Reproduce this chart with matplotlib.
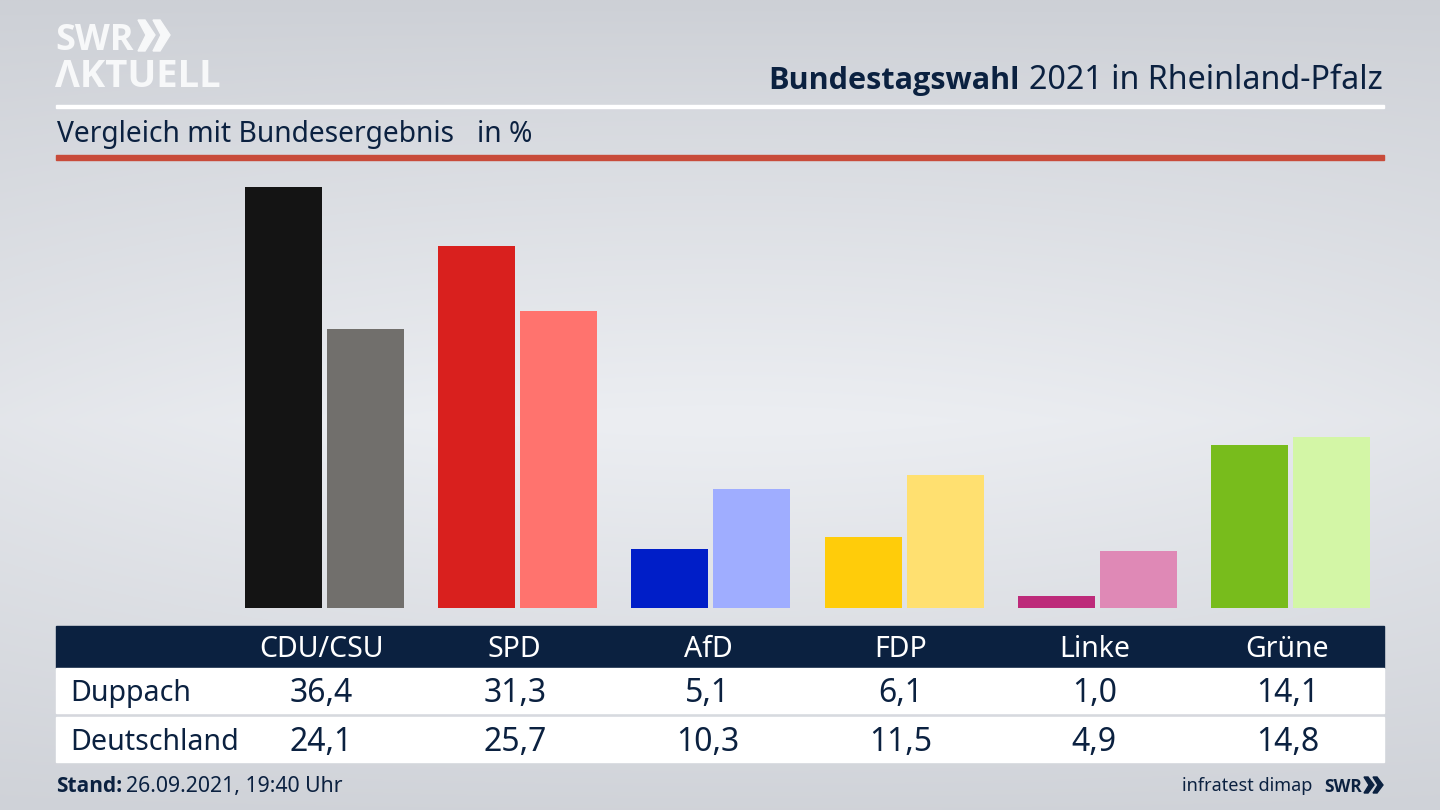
import matplotlib
import matplotlib.pyplot as plt
import numpy as np
from matplotlib.patches import Polygon, Rectangle

matplotlib.use("Agg")

parties = ["CDU/CSU", "SPD", "AfD", "FDP", "Linke", "Grüne"]
duppach = [36.4, 31.3, 5.1, 6.1, 1.0, 14.1]
deutschland = [24.1, 25.7, 10.3, 11.5, 4.9, 14.8]
colors_local = ["#141414", "#d9201e", "#001ec8", "#ffcc0a", "#bd2a7a", "#78bc1c"]
colors_national = ["#716f6c", "#ff736e", "#9fadff", "#ffe070", "#df89b6", "#d3f6a6"]

NAVY = "#0b2140"
LOGO = "#f7f8f9"
FONT = ["Noto Sans", "DejaVu Sans"]
BOLD = ["Open Sans", "DejaVu Sans"]
plt.rcParams["font.family"] = FONT

fig = plt.figure(figsize=(14.4, 8.1), dpi=100)

# full figure axes in pixel coordinates for the frame, table and texts
bg = fig.add_axes([0, 0, 1, 1])
bg.set_xlim(0, 1440)
bg.set_ylim(810, 0)
bg.axis("off")

yy = np.linspace(0, 1, 270)[:, None]
xx = np.linspace(-1, 1, 480)[None, :]
shade = np.clip(1 - np.abs(yy - 0.52) / 0.52, 0, 1) ** 0.9 * (1 - 0.28 * xx**2)
top = np.array([205, 208, 214]) / 255
light = np.array([236, 238, 242]) / 255
grad = top + shade[..., None] * (light - top)
bg.imshow(grad, extent=(0, 1440, 810, 0), aspect="auto", zorder=0)

# header
bg.add_patch(Rectangle((56, 104.5), 1328, 3, color="white", zorder=2))
bg.add_patch(Rectangle((56, 155), 1328, 5, color="#c84b3a", zorder=2))
bg.text(1383, 89, "2021 in Rheinland-Pfalz", fontsize=23.2, color=NAVY, ha="right", va="baseline")
bg.text(1019.5, 89, "Bundestagswahl", fontsize=22.1, fontweight="bold", color=NAVY,
        ha="right", va="baseline", family=BOLD)
bg.text(57, 142, "Vergleich mit Bundesergebnis", fontsize=20.3, color=NAVY, va="baseline")
bg.text(477, 142, "in %", fontsize=20.3, color=NAVY, va="baseline")

# logo
bg.text(55, 50, "SWR", fontsize=26, fontweight="bold", color=LOGO, va="baseline", family=BOLD)
bg.text(55, 87, "ΛKTUELL", fontsize=27.5, fontweight="bold", color=LOGO, va="baseline", family=BOLD)
for x0 in (138, 153):
    bg.add_patch(Polygon([(x0, 20), (x0 + 7, 20), (x0 + 17, 35), (x0 + 7, 51), (x0, 51), (x0 + 8, 35)],
                         color=LOGO, zorder=3))

# bars, drawn in party index / percent units
GROUP_STEP = 193.2
GROUP_X0 = 324.5
ax = fig.add_axes([0, (810 - 608) / 810, 1, (608 - 187) / 810])
ax.patch.set_alpha(0)
ax.set_xlim(-GROUP_X0 / GROUP_STEP, (1440 - GROUP_X0) / GROUP_STEP)
ax.set_ylim(0, 36.4)
ax.axis("off")
pos = np.arange(len(parties))
ax.bar(pos - 0.2122, duppach, width=0.398, color=colors_local)
ax.bar(pos + 0.2122, deutschland, width=0.398, color=colors_national)

# table
bg.add_patch(Rectangle((56, 626), 1328, 42, color=NAVY, zorder=2))
bg.add_patch(Rectangle((56, 668), 1328, 45, color="white", zorder=2))
bg.add_patch(Rectangle((56, 717), 1328, 45, color="white", zorder=2))
for i, party in enumerate(parties):
    cx = 321.5 + GROUP_STEP * i
    bg.text(cx, 657, party, fontsize=20.5, color="white", ha="center", va="baseline", zorder=3)
    bg.text(cx, 702, f"{duppach[i]:.1f}".replace(".", ","), fontsize=23, color=NAVY,
            ha="center", va="baseline", zorder=3)
    bg.text(cx, 751, f"{deutschland[i]:.1f}".replace(".", ","), fontsize=23, color=NAVY,
            ha="center", va="baseline", zorder=3)
bg.text(70, 701, "Duppach", fontsize=20.6, color=NAVY, va="baseline", zorder=3)
bg.text(70, 750, "Deutschland", fontsize=20.6, color=NAVY, va="baseline", zorder=3)

# footer
bg.text(56, 792, "Stand:", fontsize=15, fontweight="bold", color=NAVY, va="baseline", family=BOLD)
bg.text(126, 792, "26.09.2021, 19:40 Uhr", fontsize=15.3, color=NAVY, va="baseline")
bg.text(1312, 791, "infratest dimap", fontsize=13, color=NAVY, ha="right", va="baseline")
bg.text(1324, 792, "SWR", fontsize=12.5, fontweight="bold", color=NAVY, va="baseline", family=BOLD)
for x0 in (1364, 1373):
    bg.add_patch(Polygon([(x0, 777), (x0 + 4, 777), (x0 + 10, 785), (x0 + 4, 793), (x0, 793), (x0 + 5, 785)],
                         color=NAVY, zorder=3))

fig.savefig("out.png", dpi=100)
